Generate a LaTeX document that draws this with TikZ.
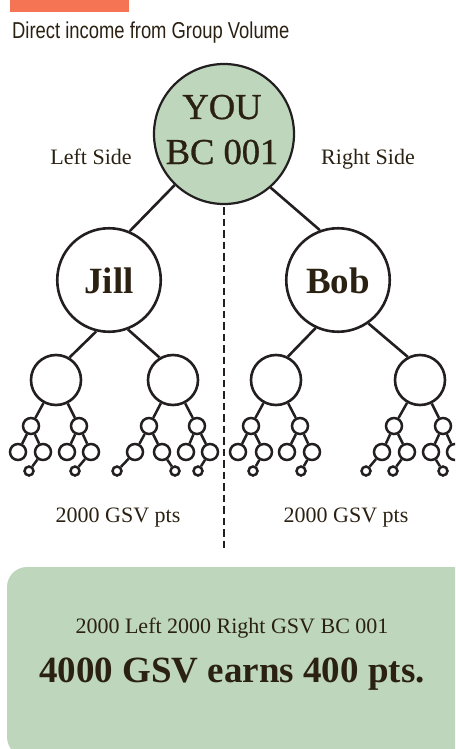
\documentclass[tikz,border=0pt]{standalone}
\usepackage{fontspec}
\setmainfont{Liberation Serif}
\newfontfamily\condsans[FakeStretch=0.8]{Liberation Sans}
\newfontfamily\mediumserif[FakeBold=0.8]{Liberation Serif}
\definecolor{ink}{HTML}{2B2113}
\definecolor{sage}{HTML}{BDD6BC}
\definecolor{coral}{HTML}{F47453}
\definecolor{linec}{HTML}{231F20}
\tikzset{
  youcircle/.style={circle, draw=linec, fill=sage, line width=2.2pt, inner sep=0pt, minimum size=140pt},
  bigcircle/.style={circle, draw=linec, line width=2.6pt, inner sep=0pt, minimum size=103.5pt},
  midcircle/.style={circle, draw=linec, line width=2.6pt, inner sep=0pt, minimum size=50pt},
  smallcircle/.style={circle, draw=linec, line width=2.5pt, inner sep=0pt, minimum size=16pt},
  tinycircle/.style={circle, draw=linec, line width=2.5pt, inner sep=0pt, minimum size=9pt},
  link/.style={draw=linec, line width=2.5pt},
  biglink/.style={draw=linec, line width=2.6pt},
  label/.style={text=ink, inner sep=0pt, anchor=base, font=\fontsize{22}{24}\selectfont},
  youtext/.style={text=ink, inner sep=0pt, anchor=base, font=\mediumserif\fontsize{36.5}{40}\selectfont},
  bigbold/.style={text=ink, inner sep=0pt, anchor=base, font=\fontsize{37}{40}\selectfont\bfseries},
}
\begin{document}
\begin{tikzpicture}[x=1pt, y=-1pt]
\useasboundingbox (0,0) rectangle (455,749);
\clip (0,0) rectangle (455,749);

% heading strip and subtitle
\fill[coral] (10,-5) rectangle (129,12);
\node[text=ink, inner sep=0pt, anchor=base west, font=\condsans\fontsize{23}{25}\selectfont] (subtitle) at (12,39) {Direct income from Group Volume};

% summary panel
\fill[sage, rounded corners=20pt] (7,567) rectangle (480,757);
\node[label] (sumline) at (232,633) {2000 Left 2000 Right GSV BC 001};
\node[bigbold] (sumtotal) at (232,682) {4000 GSV earns 400 pts.};

% centre split
\coordinate (splittop) at (224,207);
\coordinate (splitbot) at (224,548);
\draw[linec, line width=2.4pt, dash pattern=on 7.5pt off 4pt] (splittop) -- (splitbot);

% top of the tree
\node[youcircle] (you) at (224,134) {};
\node[youtext] (youtxt) at (222,119) {YOU};
\node[youtext] (bctxt) at (222,164) {BC 001};

\node[label] (lside) at (91,164.5) {Left Side};
\node[label] (rside) at (368,164.5) {Right Side};

\node[bigcircle] (jill) at (109,280) {};
\node[bigcircle] (bob) at (338,280) {};
\node[bigbold] (jilltxt) at (109,293) {Jill};
\node[bigbold] (bobtxt) at (338,293) {Bob};

\draw[biglink] (you.226) -- (jill.67);
\draw[biglink] (you.311) -- (bob.110);

% second level
\node[midcircle] (la) at (56,380) {};
\node[midcircle] (lb) at (173,380) {};
\node[midcircle] (rc) at (276,380) {};
\node[midcircle] (rd) at (420,380) {};
\draw[biglink] (jill.256) -- (la.59);
\draw[biglink] (jill.291) -- (lb.121);
\draw[biglink] (bob.245) -- (rc.63);
\draw[biglink] (bob.305) -- (rd.118);

% third level
\foreach \n/\x in {a1/31, a2/79, b1/149, b2/197, c1/251, c2/300, d1/394, d2/443}
  \node[smallcircle] (\n) at (\x,426) {};
% fourth level
\foreach \n/\x in {a11/18, a12/43, a21/67, a22/91, b11/135, b12/162, b21/186, b22/210,
                   c11/238, c12/264, c21/287, c22/312, d11/382, d12/407, d21/431, d22/455}
  \node[smallcircle] (\n) at (\x,452) {};
% fifth level
\foreach \n/\x in {a121/29, a221/75, b111/117, b121/175, b221/198, c121/253, c221/301,
                   d111/366, d121/393, d211/443}
  \node[tinycircle] (\n) at (\x,471) {};

\foreach \p/\c in {la/a1, la/a2, lb/b1, lb/b2, rc/c1, rc/c2, rd/d1, rd/d2,
                   a1/a11, a1/a12, a2/a21, a2/a22, b1/b11, b1/b12, b2/b21, b2/b22,
                   c1/c11, c1/c12, c2/c21, c2/c22, d1/d11, d1/d12, d2/d21, d2/d22,
                   a12/a121, a22/a221, b11/b111, b12/b121, b22/b221, c12/c121, c22/c221,
                   d11/d111, d12/d121, d21/d211}
  \draw[link] (\p) -- (\c);

% volume per side
\node[label] (lpts) at (118,522) {2000 GSV pts};
\node[label] (rpts) at (346,522) {2000 GSV pts};
\end{tikzpicture}
\end{document}
